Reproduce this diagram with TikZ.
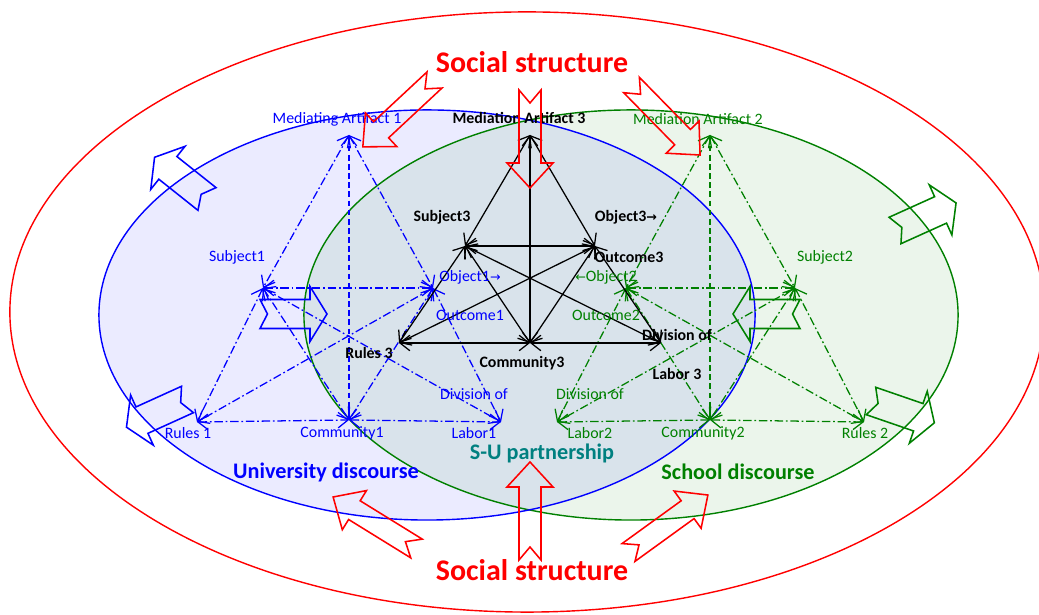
\documentclass[tikz,border=0pt]{standalone}
\usepackage{fontspec}
\setmainfont{Carlito}
\newfontfamily\symfont{DejaVu Sans}
\usetikzlibrary{arrows.meta}

\definecolor{uniblue}{RGB}{0,0,255}
\definecolor{schgreen}{RGB}{0,128,0}
\definecolor{socred}{RGB}{255,0,0}
\definecolor{suteal}{RGB}{0,128,128}

\tikzset{
  lbl/.style={font=\fontsize{11.3}{13}\selectfont, inner sep=0pt},
  blbl/.style={font=\fontsize{11.3}{13}\selectfont\bfseries, inner sep=0pt},
  area/.style={font=\fontsize{15.8}{18}\selectfont\bfseries, inner sep=0pt},
  social/.style={font=\fontsize{21.3}{24}\selectfont\bfseries, inner sep=0pt, text=socred},
  link/.style={<->, >={Straight Barb[length=7pt,width=11pt]}, line width=0.9pt},
  dlink/.style={link, dash pattern=on 6pt off 2pt on 1.2pt off 2pt},
  vlink/.style={link, dash pattern=on 4pt off 2.5pt},
  redarrow/.pic={\draw[line width=1.1pt] (0,11) -- (73,11) -- (73,23) -- (98,0) -- (73,-23) -- (73,-11) -- (0,-11) -- (13,0) -- cycle;},
  sidearrow/.pic={\draw[line width=1.1pt] (0,14.5) -- (50,14.5) -- (50,27.5) -- (67,0) -- (50,-27.5) -- (50,-14.5) -- (0,-14.5) -- (7.5,0) -- cycle;}
}

\begin{document}
\begin{tikzpicture}[x=0.025cm, y=0.025cm]
  \useasboundingbox (0,0) rectangle (1039,615);

  % discourse areas
  \fill[uniblue, fill opacity=0.08] (427,300) ellipse [x radius=8.2cm, y radius=5.125cm];
  \fill[schgreen, fill opacity=0.08] (631,300) ellipse [x radius=8.175cm, y radius=5.125cm];
  \draw[socred, line width=1pt] (527,303) ellipse [x radius=12.925cm, y radius=7.5cm];
  \draw[schgreen, line width=1pt] (631,300) ellipse [x radius=8.175cm, y radius=5.125cm];
  \draw[uniblue, line width=1pt] (427,300) ellipse [x radius=8.2cm, y radius=5.125cm];

  % university activity system
  \coordinate (ma1) at (349,480);
  \coordinate (sub1) at (263,327);
  \coordinate (obj1) at (433,327);
  \coordinate (rul1) at (197,193);
  \coordinate (com1) at (349,195);
  \coordinate (lab1) at (501,193);
  \foreach \a/\b in {ma1/sub1, ma1/obj1, sub1/obj1, sub1/rul1, sub1/com1, sub1/lab1,
                     obj1/rul1, obj1/com1, obj1/lab1, rul1/com1, com1/lab1}
    \draw[dlink, uniblue] (\a) -- (\b);
  \draw[vlink, uniblue] (ma1) -- (com1);

  % school activity system
  \coordinate (ma2) at (710,480);
  \coordinate (obj2) at (626,327);
  \coordinate (sub2) at (795,327);
  \coordinate (lab2) at (557,193);
  \coordinate (com2) at (710,195);
  \coordinate (rul2) at (864,193);
  \foreach \a/\b in {ma2/obj2, ma2/sub2, obj2/sub2, sub2/rul2, sub2/com2, sub2/lab2,
                     obj2/rul2, obj2/com2, obj2/lab2, lab2/com2, com2/rul2}
    \draw[dlink, schgreen] (\a) -- (\b);
  \draw[vlink, schgreen] (ma2) -- (com2);

  % partnership activity system
  \coordinate (ma3) at (530,480);
  \coordinate (sub3) at (465,369);
  \coordinate (out3) at (595,369);
  \coordinate (rul3) at (399,272);
  \coordinate (com3) at (530,272);
  \coordinate (lab3) at (661,272);
  \foreach \a/\b in {ma3/sub3, ma3/out3, ma3/com3, sub3/out3, sub3/rul3, sub3/com3, sub3/lab3,
                     out3/rul3, out3/com3, out3/lab3, rul3/com3, com3/lab3}
    \draw[link] (\a) -- (\b);

  % labels
  \node[lbl, text=uniblue] (ma1lbl) at (337,496) {Mediating Artifact 1};
  \node[lbl, text=uniblue] (sub1lbl) at (237,358) {Subject1};
  \node[lbl, text=uniblue] (obj1lbl) at (470,338) {Object1{\symfont\fontsize{9}{11}\selectfont →}};
  \node[lbl, text=uniblue] (out1lbl) at (470,300) {Outcome1};
  \node[lbl, text=uniblue] (div1lbl) at (474,221) {Division of};
  \node[lbl, text=uniblue] (lab1lbl) at (474,182) {Labor1};
  \node[lbl, text=uniblue] (com1lbl) at (342,182) {Community1};
  \node[lbl, text=uniblue] (rul1lbl) at (188,182) {Rules 1};

  \node[blbl] (ma3lbl) at (519,497) {Mediation Artifact 3};
  \node[blbl] (sub3lbl) at (442,398) {Subject3};
  \node[blbl] (obj3lbl) at (626,398) {Object3{\symfont\fontsize{9}{11}\selectfont →}};
  \node[blbl] (out3lbl) at (629,358) {Outcome3};
  \node[blbl] (rul3lbl) at (369,262) {Rules 3};
  \node[blbl] (com3lbl) at (522,252) {Community3};
  \node[blbl] (div3lbl) at (677,280) {Division of};
  \node[blbl] (lab3lbl) at (677,241) {Labor 3};

  \node[lbl, text=schgreen] (ma2lbl) at (698,496) {Mediation Artifact 2};
  \node[lbl, text=schgreen] (sub2lbl) at (825,358) {Subject2};
  \node[lbl, text=schgreen] (obj2lbl) at (606,338) {{\symfont\fontsize{9}{11}\selectfont ←}Object2};
  \node[lbl, text=schgreen] (out2lbl) at (606,300) {Outcome2};
  \node[lbl, text=schgreen] (div2lbl) at (590,221) {Division of};
  \node[lbl, text=schgreen] (lab2lbl) at (590,182) {Labor2};
  \node[lbl, text=schgreen] (com2lbl) at (703,182) {Community2};
  \node[lbl, text=schgreen] (rul2lbl) at (865,182) {Rules 2};

  \node[area, text=uniblue] (unilbl) at (326,143) {University discourse};
  \node[area, text=schgreen] (schlbl) at (738,143) {School discourse};
  \node[area, text=suteal] (sulbl) at (542,162) {S-U partnership};
  \node[social] (soctop) at (532,553) {Social structure};
  \node[social] (socbot) at (532,45) {Social structure};

  % influence arrows
  \pic[socred, rotate=223] at (434.5,535) {redarrow};
  \pic[socred, rotate=-90] at (530,525) {redarrow};
  \pic[socred, rotate=-45.6] at (631.5,530) {redarrow};
  \pic[socred, rotate=148.3] at (416.5,66.5) {redarrow};
  \pic[socred, rotate=90] at (530,55) {redarrow};
  \pic[socred, rotate=35.9] at (628.5,62.5) {redarrow};

  \pic[uniblue, rotate=141.5] at (207,416) {sidearrow};
  \pic[uniblue] at (260,301) {sidearrow};
  \pic[uniblue, rotate=204.4] at (187.5,215.5) {sidearrow};
  \pic[schgreen, rotate=24.3] at (895,384.5) {sidearrow};
  \pic[schgreen, rotate=180] at (800,301) {sidearrow};
  \pic[schgreen, rotate=-19] at (871,214) {sidearrow};
\end{tikzpicture}
\end{document}
